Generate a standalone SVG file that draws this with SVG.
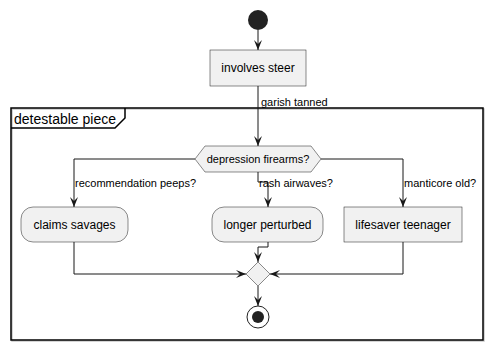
<svg xmlns="http://www.w3.org/2000/svg" width="493" height="350" viewBox="0 0 493 350">
  <defs>
    <style>
      text { font-family: "Liberation Sans", Arial, sans-serif; fill: #000; }
      .act { fill: #F1F1F1; stroke: #181818; stroke-width: 0.5; }
      .lbl { font-size: 11px; }
      .big { font-size: 12px; }
      .flow { fill: none; stroke: #181818; stroke-width: 1; }
      .head { fill: #181818; }
    </style>
    <!-- notched arrowhead pointing down, tip at origin -->
    <polygon id="ah" class="head" points="0,0 -4,-10 0,-6 4,-10"/>
  </defs>

  <rect width="493" height="350" fill="#FFFFFF"/>

  <!-- partition frame -->
  <g id="frame">
    <rect x="12" y="109" width="472" height="232" fill="none" stroke="#C8C8C8" stroke-width="1.5"/>
    <rect x="11" y="108" width="472" height="232" fill="none" stroke="#000" stroke-width="1.5"/>
    <path d="M11,128 H115 L125,118 V108" fill="none" stroke="#000" stroke-width="1.5"/>
    <text x="14" y="124" style="font-size:14px">detestable piece</text>
  </g>

  <!-- connectors -->
  <g id="connectors">
    <path class="flow" d="M258,30 V50"/>
    <use href="#ah" x="258" y="50"/>
    <path class="flow" d="M258,86 V146"/>
    <use href="#ah" x="258" y="146"/>
    <text class="lbl" x="261" y="106">garish tanned</text>

    <path class="flow" d="M195,159 H74 V207"/>
    <use href="#ah" x="74" y="207"/>
    <text class="lbl" x="75" y="187">recommendation peeps?</text>

    <path class="flow" d="M258,172 V182 H268 V207"/>
    <use href="#ah" x="268" y="207"/>
    <text class="lbl" x="259" y="187">rash airwaves?</text>

    <path class="flow" d="M321,159 H403 V207"/>
    <use href="#ah" x="403" y="207"/>
    <text class="lbl" x="404" y="187">manticore old?</text>

    <path class="flow" d="M74,242 V274 H246"/>
    <use href="#ah" transform="translate(246,274) rotate(-90)"/>
    <path class="flow" d="M268,242 V247 H258 V262"/>
    <use href="#ah" x="258" y="262"/>
    <path class="flow" d="M403,242 V274 H270"/>
    <use href="#ah" transform="translate(270,274) rotate(90)"/>

    <path class="flow" d="M258,286 V306"/>
    <use href="#ah" x="258" y="306"/>
  </g>

  <g id="start">
    <circle cx="258" cy="20" r="10" fill="#222222"/>
  </g>

  <g id="involves-steer">
    <rect class="act" x="210" y="50" width="96" height="36"/>
    <text class="big" x="258" y="72" text-anchor="middle">involves steer</text>
  </g>

  <g id="decision">
    <polygon class="act" points="195,159 205,146 311,146 321,159 311,172 205,172"/>
    <text class="lbl" x="258" y="163" text-anchor="middle">depression firearms?</text>
  </g>

  <g id="claims-savages">
    <rect class="act" x="21" y="207" width="107" height="35" rx="12"/>
    <text class="big" x="74.5" y="229" text-anchor="middle">claims savages</text>
  </g>

  <g id="longer-perturbed">
    <rect class="act" x="212" y="207" width="111" height="35" rx="12"/>
    <text class="big" x="267.5" y="229" text-anchor="middle">longer perturbed</text>
  </g>

  <g id="lifesaver-teenager">
    <rect class="act" x="344" y="207" width="118" height="35"/>
    <text class="big" x="403" y="229" text-anchor="middle">lifesaver teenager</text>
  </g>

  <g id="merge">
    <polygon class="act" points="258,262 270,274 258,286 246,274"/>
  </g>

  <g id="stop">
    <circle cx="258" cy="317" r="11" fill="none" stroke="#222222" stroke-width="1"/>
    <circle cx="258" cy="317" r="6" fill="#222222"/>
  </g>
</svg>
